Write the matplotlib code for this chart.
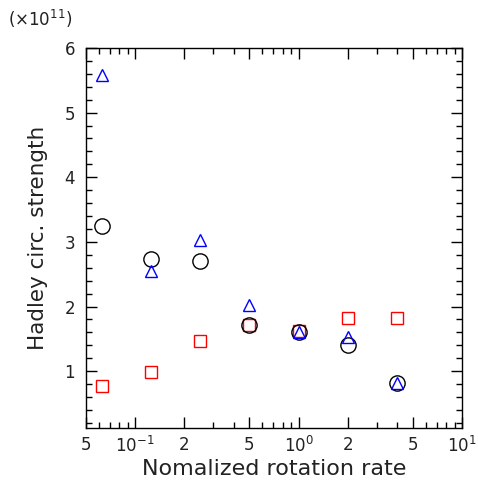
import numpy as np
import matplotlib.pyplot as plt
from matplotlib.ticker import FixedLocator, FixedFormatter, MultipleLocator

plt.rcParams['font.family'] = ['DejaVu Sans']

# normalized rotation rate
rot = [0.0625, 0.125, 0.25, 0.5, 1.0, 2.0, 4.0]
# Hadley circulation strength (x1e11)
circ_black = [3.24, 2.73, 2.70, 1.72, 1.61, 1.41, 0.81]
tri_blue = [5.58, 2.55, 3.03, 2.03, 1.61, 1.53, 0.81]
sq_red = [0.77, 0.98, 1.47, 1.71, 1.62, 1.82, 1.83]

xticks = [0.05, 0.1, 0.2, 0.5, 1.0, 2.0, 5.0, 10.0]
xticklabels = ['5', r'$10^{-1}$', '2', '5', r'$10^{0}$', '2', '5', r'$10^{1}$']

fig = plt.figure(figsize=(4.78, 4.86), dpi=100)
ax = fig.add_axes([0.18, 0.1193, 0.7865, 0.7819])

ax.plot(rot, sq_red, 's', ms=9, mfc='none', mec='red', mew=1.0)
ax.plot(rot, circ_black, 'o', ms=11, mfc='none', mec='black', mew=1.0)
ax.plot(rot, tri_blue, '^', ms=9, mfc='none', mec='blue', mew=1.0)

ax.set_xscale('log')
ax.set_xlim(0.05, 10)
ax.set_ylim(0.12, 6)

ax.xaxis.set_major_locator(FixedLocator(xticks))
ax.xaxis.set_major_formatter(FixedFormatter(xticklabels))
minor = [v * d for d in (0.01, 0.1, 1.0) for v in range(2, 10)]
ax.xaxis.set_minor_locator(FixedLocator(minor))
ax.xaxis.set_minor_formatter(FixedFormatter([''] * len(minor)))
ax.yaxis.set_major_locator(FixedLocator([1, 2, 3, 4, 5, 6]))
ax.yaxis.set_minor_locator(MultipleLocator(0.2))

ax.tick_params(which='both', direction='in', top=True, right=True,
               labelsize=12, labelcolor='#222222')
ax.tick_params(which='major', length=8, width=1, pad=6)
ax.tick_params(which='minor', length=4, width=1)
ax.tick_params(axis='y', which='major', pad=8)
for s in ax.spines.values():
    s.set_linewidth(1.0)

ax.set_xlabel('Nomalized rotation rate', fontsize=16, labelpad=2, color='#222222')
ax.set_ylabel('Hadley circ. strength', fontsize=15.5, labelpad=12, color='#222222')
fig.text(0.017, 0.962, r'($\times10^{11}$)', fontsize=12, va='center', ha='left',
         color='#222222')

fig.savefig('out.png', dpi=100)
